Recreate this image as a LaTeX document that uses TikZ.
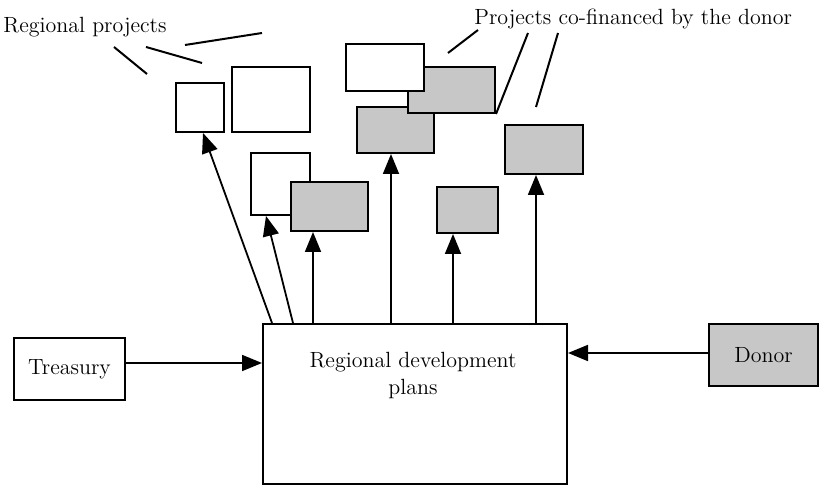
\documentclass[tikz,border=0pt]{standalone}
\usetikzlibrary{arrows.meta}
\begin{document}
\begin{tikzpicture}[x=0.5pt,y=-0.5pt,every node/.style={font=\fontsize{11}{13.5}\selectfont},
  box/.style={draw,line width=1pt,fill=white,inner sep=0pt},
  shaded/.style={box,fill=black!22},
  arr/.style={line width=0.9pt,-{Triangle[length=10pt,width=8pt]}},
  lead/.style={line width=1pt}]
\useasboundingbox (0,0) rectangle (819,485);
% Funding sources and plans
\node[box,minimum width=152pt,minimum height=80pt] (plans) at (415,404) {};
\node[align=center,inner sep=0pt] (planstext) at (413,376) {Regional development\\plans};
\node[box,minimum width=55.5pt,minimum height=31pt] (treasury) at (69.5,369) {Treasury};
\node[shaded,minimum width=54.5pt,minimum height=31pt] (donor) at (763.5,355) {Donor};
\draw[arr] ([yshift=3pt]treasury.east) -- ([yshift=3pt]treasury.east -| plans.west);
\draw[arr] ([yshift=1pt]donor.west) -- ([yshift=1pt]donor.west -| plans.east);
% Projects
\node[box,minimum width=24pt,minimum height=24.5pt] (pa) at (200,107.5) {};
\node[box,minimum width=39pt,minimum height=32.5pt] (pb) at (271,99.5) {};
\node[box,minimum width=29.5pt,minimum height=31pt] (pc) at (280.5,184) {};
\node[shaded,minimum width=38.5pt,minimum height=24.5pt] (pd) at (329.5,206.5) {};
\node[shaded,minimum width=38.5pt,minimum height=23pt] (pg) at (395.5,130) {};
\node[shaded,minimum width=43.5pt,minimum height=23pt] (pf) at (451.5,90) {};
\node[box,minimum width=39pt,minimum height=23.5pt] (pe) at (385,67.5) {};
\node[shaded,minimum width=39pt,minimum height=24.5pt] (ph) at (544,149.5) {};
\node[shaded,minimum width=30.5pt,minimum height=23pt] (pi) at (467.5,210) {};
\draw[arr] ([xshift=5pt]plans.north west) -- ([xshift=14pt]pa.south west);
\draw[arr] ([xshift=15.5pt]plans.north west) -- ([xshift=8pt]pc.south west);
\draw[arr] ([xshift=25.5pt]plans.north west) -- ([xshift=11.5pt]pd.south west);
\draw[arr] ([xshift=64.5pt]plans.north west) -- ([xshift=17.5pt]pg.south west);
\draw[arr] ([xshift=95.5pt]plans.north west) -- ([xshift=8.5pt]pi.south west);
\draw[arr] ([xshift=137pt]plans.north west) -- ([xshift=16pt]ph.south west);
% Labels with leader lines
\node[anchor=base west,inner sep=0pt] (regproj) at (3,33) {Regional projects};
\node[anchor=base west,inner sep=0pt] (cofin) at (474,25) {Projects co-financed by the donor};
\coordinate (r1) at (262,33);
\coordinate (r2) at (202,63);
\coordinate (r3) at (147,74);
\coordinate (c1) at (448,53);
\coordinate (c3) at (536,107);
\draw[lead] ([shift={(91pt,-6pt)}]regproj.base west) -- (r1);
\draw[lead] ([shift={(71.5pt,-7pt)}]regproj.base west) -- (r2);
\draw[lead] ([shift={(55.5pt,-7pt)}]regproj.base west) -- (r3);
\draw[lead] ([shift={(2pt,-2.5pt)}]cofin.base west) -- (c1);
\draw[lead] ([shift={(27pt,-4pt)}]cofin.base west) -- (pf.south east);
\draw[lead] ([shift={(42pt,-4pt)}]cofin.base west) -- (c3);
\end{tikzpicture}
\end{document}
